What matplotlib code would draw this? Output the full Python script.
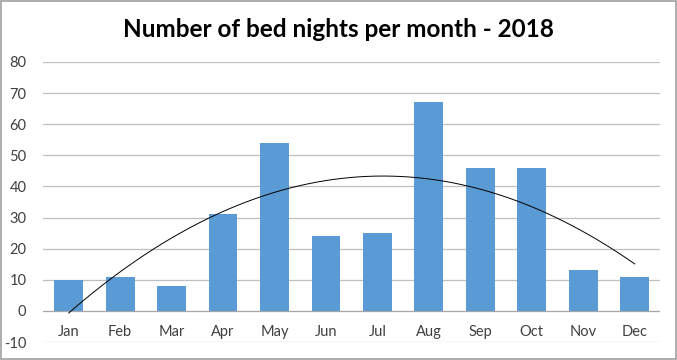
import numpy as np
from matplotlib import pyplot as plt
from matplotlib.patches import Rectangle

months = ["Jan", "Feb", "Mar", "Apr", "May", "Jun", "Jul", "Aug", "Sep", "Oct", "Nov", "Dec"]
nights = [10, 11, 8, 31, 54, 24, 25, 67, 46, 46, 13, 11]
yticks = [-10, 0, 10, 20, 30, 40, 50, 60, 70, 80]

plt.rcParams['font.family'] = ['Lato', 'DejaVu Sans']

fig = plt.figure(figsize=(6.77, 3.6), dpi=100)
ax = fig.add_axes([0.0635, 0.05, 0.912, 0.778])

x = np.arange(1, len(months) + 1)
ax.bar(x, nights, width=0.56, color='#5B9BD5', zorder=3)

# polynomial trendline (order 2) like Excel
coef = np.polyfit(x, nights, 2)
xs = np.linspace(1, 12, 200)
ax.plot(xs, np.polyval(coef, xs), color='black', lw=0.7, zorder=4)

ax.set_xlim(0.5, 12.5)
ax.set_ylim(-10, 80)
ax.set_yticks(yticks)
ax.set_yticklabels([str(v) for v in yticks], fontsize=10.5, color='#404040')
ax.set_xticks([])
ax.tick_params(axis='y', length=0, pad=12)
for v in yticks:
    ax.axhline(v, color='#BFBFBF' if v != 0 else '#A6A6A6', lw=0.9, zorder=1)
for s in ax.spines.values():
    s.set_visible(False)

# category labels sit just below the zero line
for xi, m in zip(x, months):
    ax.annotate(m, xy=(xi, 0), xytext=(0, -10), textcoords='offset points',
                ha='center', va='top', fontsize=10.5, color='#404040')

fig.text(0.5, 0.918, "Number of bed nights per month - 2018", ha='center', va='center',
         fontsize=17.5, fontweight='bold', color='black')

fig.patches.append(Rectangle((0.001, 0.002), 0.997, 0.995, transform=fig.transFigure,
                             fill=False, edgecolor='#A0A0A0', lw=1.2))

fig.savefig('out.png', dpi=100)
